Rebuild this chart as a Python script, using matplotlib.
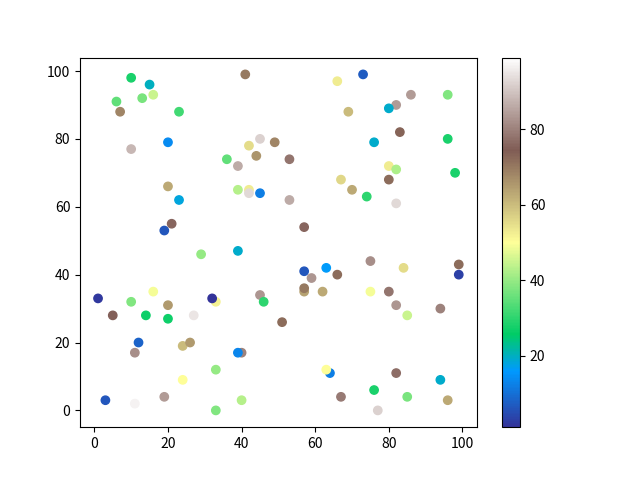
import numpy as np
import matplotlib
matplotlib.use('Agg')
from matplotlib import pyplot as plt

plt.rcParams['font.family'] = ['Noto Sans CJK SC', 'DejaVu Sans']

x = [1, 3, 5, 6, 7, 10, 10, 10, 11, 11, 12, 13, 14, 15, 16, 16, 19, 19, 20, 20,
     20, 20, 21, 23, 23, 24, 26, 27, 24, 29, 33, 32, 33, 33, 36, 39, 39, 39, 40, 39,
     40, 41, 42, 42, 42, 44, 45, 45, 45, 46, 49, 51, 53, 53, 57, 57, 57, 57, 59, 62,
     63, 64, 63, 66, 66, 67, 67, 69, 70, 73, 74, 75, 75, 76, 76, 77, 80, 80, 80, 82,
     80, 82, 82, 82, 82, 83, 84, 85, 85, 86, 94, 94, 94, 96, 96, 96, 98, 99, 99]
y = [33, 3, 28, 91, 88, 98, 77, 32, 2, 17, 20, 92, 28, 96, 93, 35, 53, 4, 79, 66,
     31, 27, 55, 88, 62, 19, 20, 28, 9, 46, 32, 33, 12, 0, 74, 72, 65, 47, 17, 17,
     3, 99, 78, 65, 64, 75, 80, 64, 34, 32, 79, 26, 74, 62, 54, 41, 35, 36, 39, 35,
     42, 11, 12, 40, 97, 68, 4, 88, 65, 99, 63, 44, 35, 79, 6, 0, 72, 68, 35, 90,
     89, 71, 61, 31, 11, 82, 42, 28, 4, 93, 60, 30, 9, 93, 80, 3, 70, 43, 40]
c = [2, 6, 75, 35, 68, 28, 88, 38, 97, 82, 8, 37, 27, 20, 45, 49, 6, 84, 14, 63,
     65, 27, 76, 32, 18, 60, 65, 95, 50, 40, 52, 1, 40, 38, 35, 86, 43, 19, 80, 13,
     43, 70, 55, 53, 93, 66, 92, 12, 83, 30, 68, 72, 78, 86, 76, 6, 64, 70, 83, 63,
     16, 12, 50, 72, 53, 56, 79, 60, 63, 7, 30, 82, 49, 19, 28, 92, 53, 72, 78, 84,
     19, 42, 93, 83, 77, 73, 55, 45, 37, 84, 99, 80, 19, 38, 28, 63, 28, 72, 3]

fig, ax = plt.subplots(figsize=(6.4, 4.8))
sc = ax.scatter(x, y, c=c, cmap='terrain')
fig.colorbar(sc, ax=ax)
plt.savefig('out.png')
